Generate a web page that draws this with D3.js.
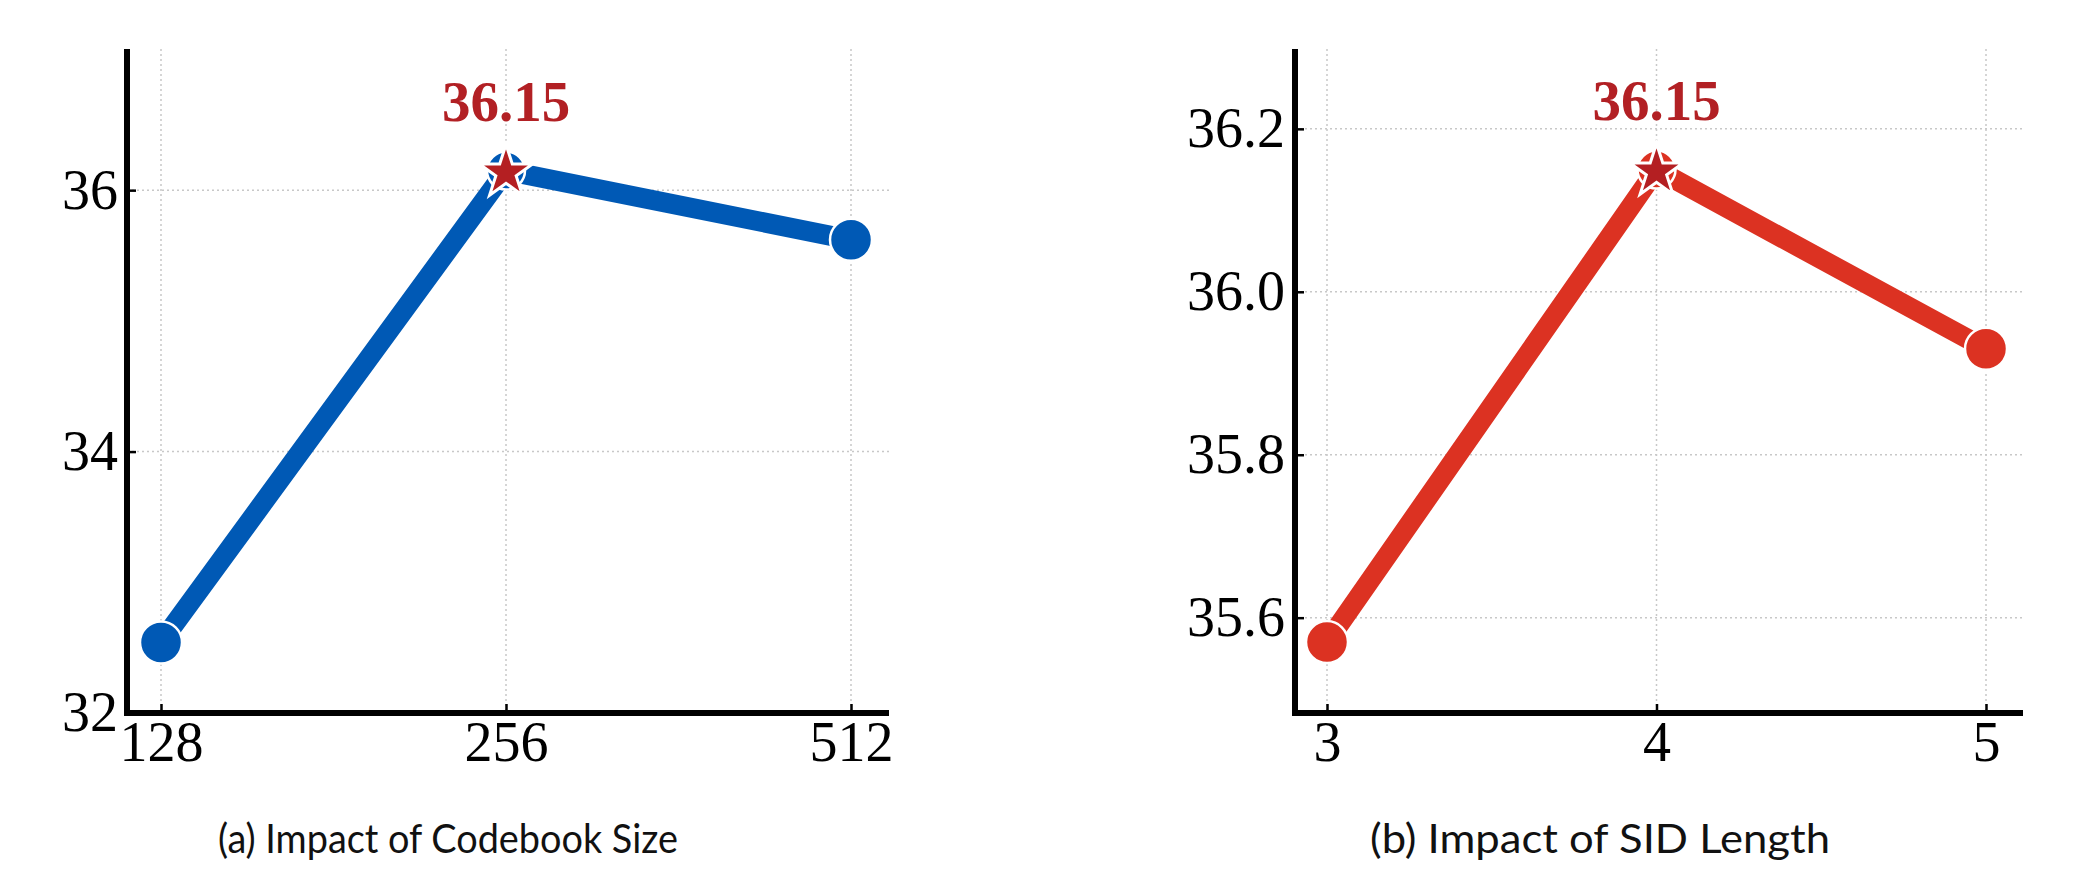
<!DOCTYPE html>
<html>
<head>
<meta charset="utf-8">
<script src="https://cdn.jsdelivr.net/npm/d3@7"></script>
<style>
  body { margin: 0; background: #fff; }
  .tick text { font-family: "Liberation Serif", "Times New Roman", serif; }
</style>
</head>
<body>
<div id="chart"></div>
<script>
// data
const codebookSizes = ["128", "256", "512"];
const codebookScores = [32.54, 36.15, 35.62];
const codebookTicks = [32, 34, 36];

const sidLengths = ["3", "4", "5"];
const sidScores = [35.57, 36.15, 35.93];
const sidTicks = [35.6, 35.8, 36.0, 36.2];

const width = 2075, height = 895;

const svg = d3.select("#chart")
  .append("svg")
  .attr("width", width)
  .attr("height", height)
  .attr("viewBox", [0, 0, width, height]);

// one object per panel, built from the arrays above
const panels = [
  { cats: codebookSizes, vals: codebookScores, yTicks: codebookTicks, yDom: [32, 37.08], fmt: d3.format("d"),
    axisX: 127, right: 889, xRange: [161, 851], color: "#0059b5", title: "(a) Impact of Codebook Size", titleX: 218, pad: 9 },
  { cats: sidLengths, vals: sidScores, yTicks: sidTicks, yDom: [35.483, 36.298], fmt: d3.format(".1f"),
    axisX: 1295, right: 2023, xRange: [1327, 1986], color: "#dc3222", title: "(b) Impact of SID Length", titleX: 1370, pad: 10 }
];

const plotTop = 49, plotBottom = 713;

panels.forEach(p => {
  const x = d3.scalePoint().domain(p.cats).range(p.xRange);
  const y = d3.scaleLinear().domain(p.yDom).range([plotBottom, plotTop]);
  const g = svg.append("g");

  // dotted grid
  g.append("g").selectAll("line")
    .data(p.cats).join("line")
    .attr("x1", d => x(d)).attr("x2", d => x(d))
    .attr("y1", plotTop).attr("y2", plotBottom)
    .attr("stroke", "#c8c8c8").attr("stroke-width", 1.5).attr("stroke-dasharray", "2,3");
  g.append("g").selectAll("line")
    .data(p.yTicks).join("line")
    .attr("x1", p.axisX).attr("x2", p.right)
    .attr("y1", d => y(d)).attr("y2", d => y(d))
    .attr("stroke", "#c8c8c8").attr("stroke-width", 1.5).attr("stroke-dasharray", "2,3");

  // axes (ticks point inward)
  const xa = g.append("g")
    .attr("transform", `translate(0,${plotBottom})`)
    .call(d3.axisBottom(x).tickSizeInner(-9).tickSizeOuter(0).tickPadding(8));
  const ya = g.append("g")
    .attr("transform", `translate(${p.axisX},0)`)
    .call(d3.axisLeft(y).tickValues(p.yTicks).tickFormat(p.fmt).tickSizeInner(-9).tickSizeOuter(0).tickPadding(p.pad));
  [xa, ya].forEach(a => {
    a.select(".domain").remove();
    a.selectAll(".tick line").attr("stroke", "#000").attr("stroke-width", 2.5);
    a.selectAll(".tick text").attr("font-size", 56).attr("fill", "#000");
  });

  // spines
  g.append("line").attr("x1", p.axisX).attr("x2", p.axisX).attr("y1", plotTop).attr("y2", plotBottom + 3)
    .attr("stroke", "#000").attr("stroke-width", 6);
  g.append("line").attr("x1", p.axisX - 3).attr("x2", p.right).attr("y1", plotBottom).attr("y2", plotBottom)
    .attr("stroke", "#000").attr("stroke-width", 6);

  const pts = p.cats.map((c, i) => ({ c, v: p.vals[i] }));
  const line = d3.line().x(d => x(d.c)).y(d => y(d.v));

  g.append("path")
    .datum(pts)
    .attr("d", line)
    .attr("fill", "none")
    .attr("stroke", p.color)
    .attr("stroke-width", 20);

  g.append("g").selectAll("circle")
    .data(pts).join("circle")
    .attr("cx", d => x(d.c)).attr("cy", d => y(d.v))
    .attr("r", d => d.v === d3.max(p.vals) ? 19 : 21)
    .attr("fill", p.color)
    .attr("stroke", "#fff").attr("stroke-width", 2.5);

  // best point: star + value label
  const best = pts[d3.maxIndex(p.vals)];
  g.append("path")
    .attr("d", d3.symbol().type(d3.symbolStar).size(880)())
    .attr("transform", `translate(${x(best.c)},${y(best.v) + 2})`)
    .attr("fill", "#b41f22")
    .attr("stroke", "#fff").attr("stroke-width", 3);
  g.append("text")
    .attr("x", x(best.c)).attr("y", y(best.v) - 50)
    .attr("text-anchor", "middle")
    .attr("font-family", "'Liberation Serif', 'Times New Roman', serif")
    .attr("font-weight", "bold")
    .attr("font-size", 57)
    .attr("fill", "#b22024")
    .text(best.v.toFixed(2));

  // caption
  g.append("text")
    .attr("x", p.titleX).attr("y", 853)
    .attr("font-family", "Lato, 'Open Sans', sans-serif")
    .attr("font-size", 40)
    .attr("fill", "#111")
    .attr("textLength", 460)
    .attr("lengthAdjust", "spacingAndGlyphs")
    .text(p.title);
});
</script>
</body>
</html>
